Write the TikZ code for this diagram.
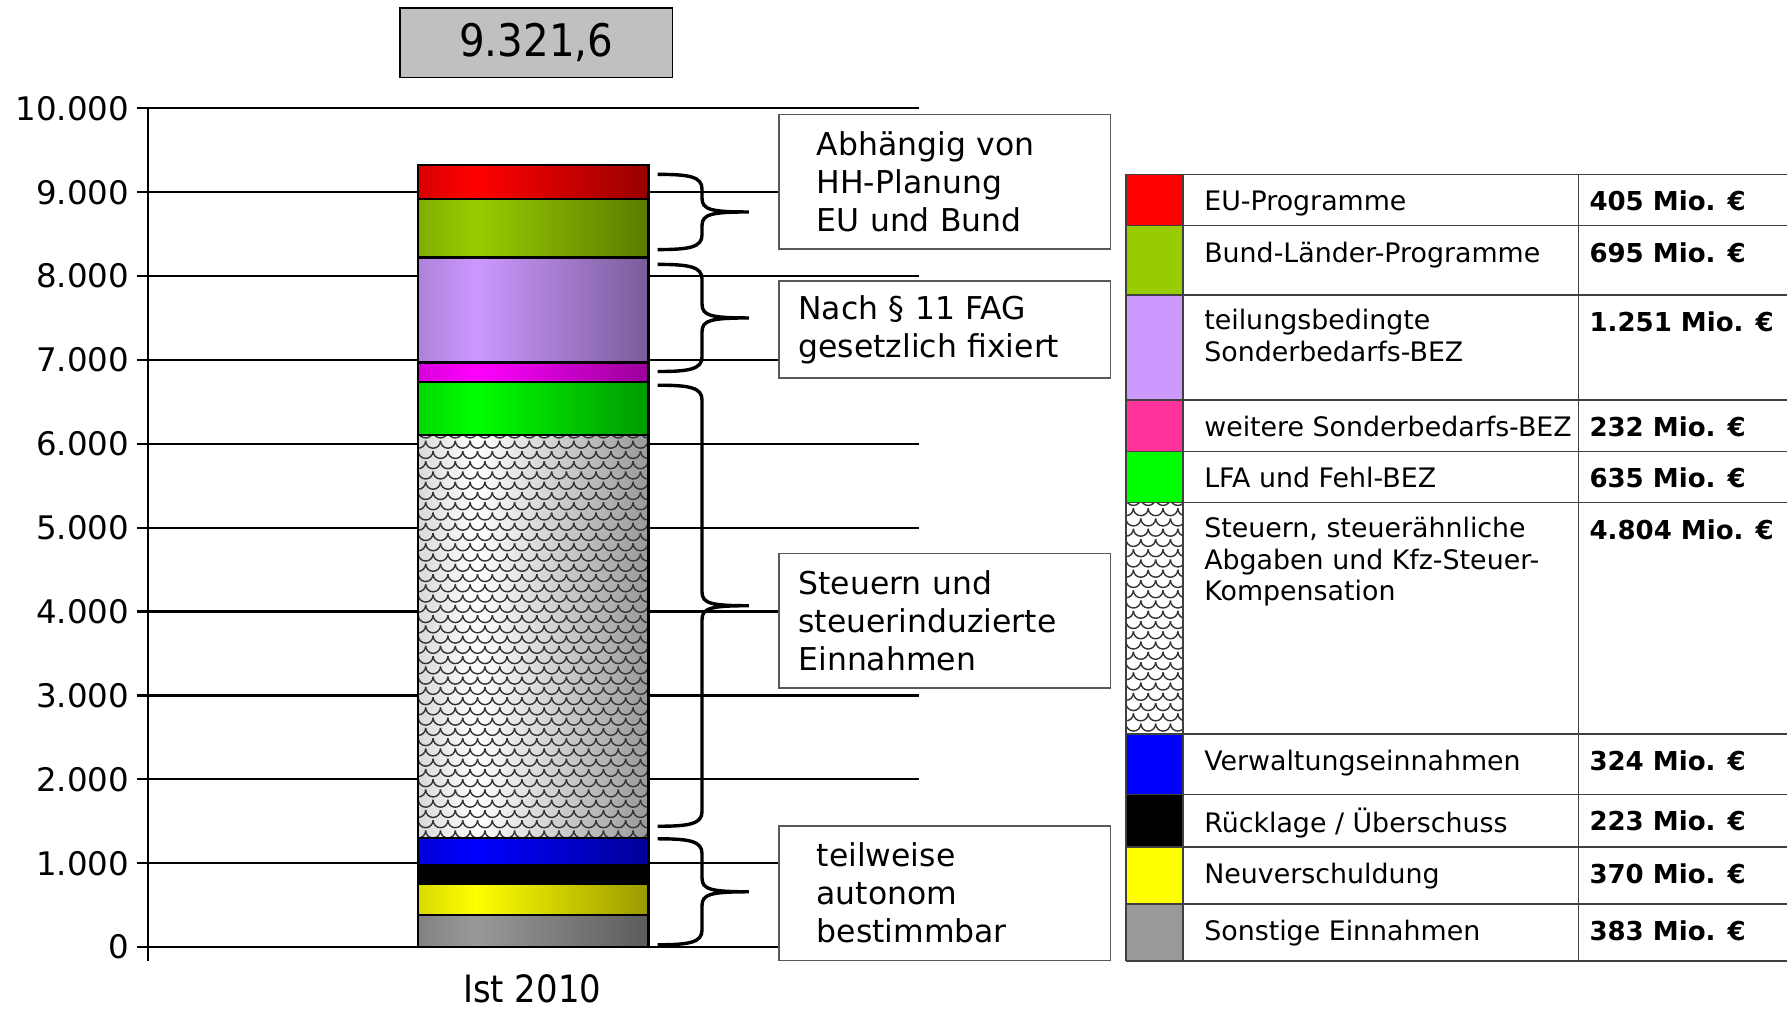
\documentclass[tikz,border=0pt]{standalone}
\usepackage{fontspec}
\setmainfont{DejaVu Sans}
\newfontfamily\condfont{DejaVu Sans Condensed}
\usetikzlibrary{calc}

\definecolor{euRed}{RGB}{255,0,0}
\definecolor{bundGreen}{RGB}{153,204,0}
\definecolor{teilViolet}{RGB}{204,153,255}
\definecolor{weitMagenta}{RGB}{255,0,255}
\definecolor{weitPink}{RGB}{255,51,153}
\definecolor{lfaGreen}{RGB}{0,255,0}
\definecolor{verwBlue}{RGB}{0,0,255}
\definecolor{neuYellow}{RGB}{255,255,0}
\definecolor{sonstGray}{RGB}{153,153,153}
\definecolor{titleGray}{RGB}{192,192,192}

\colorlet{segcol}{white}
\pgfdeclarehorizontalshading[segcol]{segshade}{100bp}{color(0bp)=(segcol!85!black); color(25bp)=(segcol!85!black); color(37.5bp)=(segcol); color(75bp)=(segcol!60!black); color(100bp)=(segcol!60!black)}

\newcommand{\axisfont}{\fontsize{8.1pt}{9.7pt}\selectfont}
\newcommand{\legfont}{\fontsize{6.7pt}{7.97pt}\selectfont}
\newcommand{\valfont}{\fontsize{6.5pt}{7.97pt}\selectfont\bfseries}
\newcommand{\boxfont}{\fontsize{7.85pt}{9.53pt}\selectfont}
\newcommand{\totalfont}{\condfont\fontsize{11.2pt}{13pt}\selectfont}
\newcommand{\catfont}{\condfont\fontsize{9.4pt}{11pt}\selectfont}

% value (Mio.) -> picture y
\newcommand{\yv}[1]{831-0.0736*(#1)}

\def\groupbrace(#1:#2){\draw[bracestroke] (577,#1) .. controls (605,#1) and (616,#1+2) .. (616,#1+13) -- (616,{(#1+#2)/2-12}) .. controls (616,{(#1+#2)/2-2}) and (624,{(#1+#2)/2}) .. (657,{(#1+#2)/2}) .. controls (624,{(#1+#2)/2}) and (616,{(#1+#2)/2+2}) .. (616,{(#1+#2)/2+12}) -- (616,#2-13) .. controls (616,#2-2) and (605,#2) .. (577,#2);}

\newcommand{\scalefill}[4]{%
	\begin{scope}
		\clip (#1,{#2}) rectangle (#3,{#4});
		\foreach \ri in {0,...,40}
			\foreach \ci in {-1,...,16}
				\draw[scaleline] ({#1+\ci*13+mod(\ri,2)*6.5},{#2+\ri*9-4}) arc (180:0:6.5);
	\end{scope}}

\begin{document}
\begin{tikzpicture}[x=0.1mm, y=-0.1mm,
	gridline/.style={line width=0.55pt},
	seg/.style={shade, shading=segshade, draw=black, line width=0.6pt, /utils/exec={\colorlet{segcol}{#1}}},
	scaleline/.style={line width=0.35pt, black!80},
	bracestroke/.style={line width=0.85pt},
	labelbox/.style={draw=black!65, line width=0.35pt, fill=white, anchor=north west, align=left, font=\boxfont, inner ysep=0pt},
	tabline/.style={line width=0.4pt, black!75},
	legtext/.style={anchor=north west, inner sep=0pt, yshift=-1.17mm, align=left, font=\legfont, execute at begin node=\strut},
	legvalue/.style={legtext, font=\valfont},
	ticklabel/.style={anchor=east, inner sep=0pt, font=\axisfont}]

	%%%%% START %%%%%
	\useasboundingbox (0,0) rectangle (1568,886);

	\node[draw, line width=0.45pt, fill=titleGray, minimum width=23.9mm, minimum height=6.1mm, font=\totalfont] (total) at (470.5,37.5) {9.321,6};

	% axis and grid
	\foreach \k/\lab in {0/0,1/1.000,2/2.000,3/3.000,4/4.000,5/5.000,6/6.000,7/7.000,8/8.000,9/9.000,10/10.000} {
		\draw[gridline] (120,{\yv{\k*1000}}) -- (806,{\yv{\k*1000}});
		\node[ticklabel] (tick\k) at (114,{\yv{\k*1000}}) {\lab};
	}
	\draw[gridline] (130,95) -- (130,843);
	\draw[gridline] (806,831) -- (806,843);
	\node[font=\catfont, inner sep=1pt] (cat) at (467,868) {Ist 2010};

	% bar
	\path[seg=sonstGray] (367,{\yv{0}}) rectangle (569,{\yv{383}});
	\path[seg=neuYellow] (367,{\yv{383}}) rectangle (569,{\yv{753}});
	\path[seg=black] (367,{\yv{753}}) rectangle (569,{\yv{976}});
	\path[seg=verwBlue] (367,{\yv{976}}) rectangle (569,{\yv{1300}});
	\path[seg=white] (367,{\yv{1300}}) rectangle (569,{\yv{6104}});
	\scalefill{367}{\yv{6104}}{569}{\yv{1300}}
	\draw[line width=0.6pt] (367,{\yv{1300}}) rectangle (569,{\yv{6104}});
	\path[seg=lfaGreen] (367,{\yv{6104}}) rectangle (569,{\yv{6739}});
	\path[seg=weitMagenta] (367,{\yv{6739}}) rectangle (569,{\yv{6971}});
	\path[seg=teilViolet] (367,{\yv{6971}}) rectangle (569,{\yv{8222}});
	\path[seg=bundGreen] (367,{\yv{8222}}) rectangle (569,{\yv{8917}});
	\path[seg=euRed] (367,{\yv{8917}}) rectangle (569,{\yv{9321.6}});

	% braces
	\groupbrace(153:219)
	\groupbrace(232:326)
	\groupbrace(338:725)
	\groupbrace(736:829)

	% labels
	\node[labelbox, inner xsep=3.3mm, text width=22.5mm, minimum height=11.8mm] (hhbox) at (683,100) {Abhängig von\\HH-Planung\\EU und Bund};
	\node[labelbox, inner xsep=1.7mm, text width=25.7mm, minimum height=8.5mm] (fagbox) at (683,246) {Nach § 11 FAG\\gesetzlich fixiert};
	\node[labelbox, inner xsep=1.7mm, text width=25.7mm, minimum height=11.8mm] (steuerbox) at (683,485) {Steuern und\\steuerinduzierte\\Einnahmen};
	\node[labelbox, inner xsep=3.3mm, text width=22.5mm, minimum height=11.8mm] (autobox) at (683,724) {teilweise\\autonom\\bestimmbar};

	% legend
	\foreach \t/\b/\cc in {153/198/euRed,198/259/bundGreen,259/351/teilViolet,351/396/weitPink,396/441/lfaGreen,644/697/verwBlue,697/743/black,743/793/neuYellow,793/843/sonstGray}
		\fill[\cc] (988,\t) rectangle (1038,\b);
	\scalefill{988}{441}{1038}{644}
	\foreach \yy in {153,198,259,351,396,441,644,697,743,793,843}
		\draw[tabline] (988,\yy) -- (1568,\yy);
	\foreach \xx in {988,1038,1385}
		\draw[tabline] (\xx,153) -- (\xx,843);

	\node[legtext] (legEU) at (1056,153) {EU-Programme};
	\node[legvalue] (valEU) at (1394,153) {405 Mio. €};
	\node[legtext] (legBund) at (1056,198) {Bund-Länder-Programme};
	\node[legvalue] (valBund) at (1394,198) {695 Mio. €};
	\node[legtext] (legTeil) at (1056,259) {teilungsbedingte\\Sonderbedarfs-BEZ};
	\node[legvalue] (valTeil) at (1394,259) {1.251 Mio. €};
	\node[legtext] (legWeit) at (1056,351) {weitere Sonderbedarfs-BEZ};
	\node[legvalue] (valWeit) at (1394,351) {232 Mio. €};
	\node[legtext] (legLfa) at (1056,396) {LFA und Fehl-BEZ};
	\node[legvalue] (valLfa) at (1394,396) {635 Mio. €};
	\node[legtext] (legSteuer) at (1056,441) {Steuern, steuerähnliche\\Abgaben und Kfz-Steuer-\\Kompensation};
	\node[legvalue] (valSteuer) at (1394,441) {4.804 Mio. €};
	\node[legtext] (legVerw) at (1056,644) {Verwaltungseinnahmen};
	\node[legvalue] (valVerw) at (1394,644) {324 Mio. €};
	\node[legtext] (legRueck) at (1056,697) {Rücklage / Überschuss};
	\node[legvalue] (valRueck) at (1394,697) {223 Mio. €};
	\node[legtext] (legNeu) at (1056,743) {Neuverschuldung};
	\node[legvalue] (valNeu) at (1394,743) {370 Mio. €};
	\node[legtext] (legSonst) at (1056,793) {Sonstige Einnahmen};
	\node[legvalue] (valSonst) at (1394,793) {383 Mio. €};

	%%%%% END %%%%%
\end{tikzpicture}
\end{document}
